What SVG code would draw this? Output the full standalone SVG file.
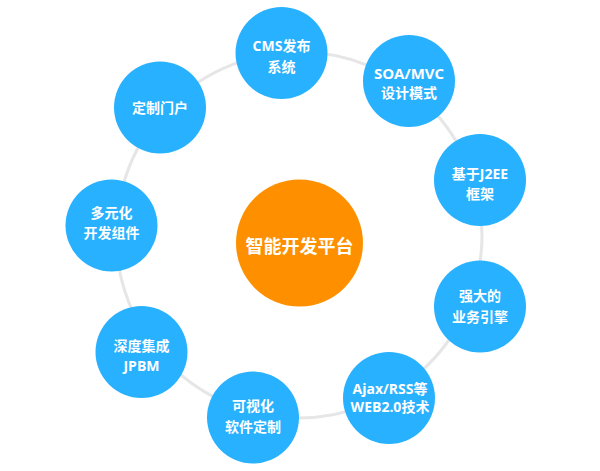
<svg xmlns="http://www.w3.org/2000/svg" width="600" height="471" viewBox="0 0 600 471">
<style>
.ring{fill:none;stroke:#e6e6e6;stroke-width:3}
.b{fill:#28b1fe}
.o{fill:#fe9000}
text{fill:#ffffff;font-family:"Open Sans","Noto Sans CJK SC",sans-serif;font-weight:700;font-size:14px;text-anchor:middle}
.big{font-size:18px}
.m{font-size:15px}
</style>
<rect width="600" height="471" fill="#ffffff"/>
<g id="connectors">
<circle class="ring" cx="299" cy="235" r="183"/>
</g>
<g id="center">
<circle class="o" cx="299.5" cy="243" r="63.5"/>
<text class="big" x="299.5" y="253">智能开发平台</text>
</g>
<g id="n-cms">
<circle class="b" cx="281.5" cy="53" r="46"/>
<text x="281.5" y="51">CMS发布</text>
<text x="281.5" y="72">系统</text>
</g>
<g id="n-soa">
<circle class="b" cx="409" cy="81" r="46"/>
<text class="m" x="409" y="79">SOA/MVC</text>
<text x="409" y="98">设计模式</text>
</g>
<g id="n-j2ee">
<circle class="b" cx="480" cy="180" r="46"/>
<text x="480" y="179">基于J2EE</text>
<text x="480" y="199">框架</text>
</g>
<g id="n-engine">
<circle class="b" cx="480" cy="306.5" r="46"/>
<text x="480" y="301">强大的</text>
<text x="480" y="322">业务引擎</text>
</g>
<g id="n-ajax">
<circle class="b" cx="389" cy="398" r="46"/>
<text x="390" y="394">Ajax/RSS等</text>
<text x="390" y="412">WEB2.0技术</text>
</g>
<g id="n-visual">
<circle class="b" cx="253" cy="417.5" r="46"/>
<text x="253" y="411">可视化</text>
<text x="253" y="432">软件定制</text>
</g>
<g id="n-jpbm">
<circle class="b" cx="141.5" cy="352" r="46"/>
<text x="141.5" y="351">深度集成</text>
<text x="141.5" y="371">JPBM</text>
</g>
<g id="n-multi">
<circle class="b" cx="111.5" cy="225.5" r="46"/>
<text x="111.5" y="218">多元化</text>
<text x="111.5" y="238">开发组件</text>
</g>
<g id="n-portal">
<circle class="b" cx="160" cy="107.5" r="46"/>
<text x="160" y="113">定制门户</text>
</g>
</svg>
